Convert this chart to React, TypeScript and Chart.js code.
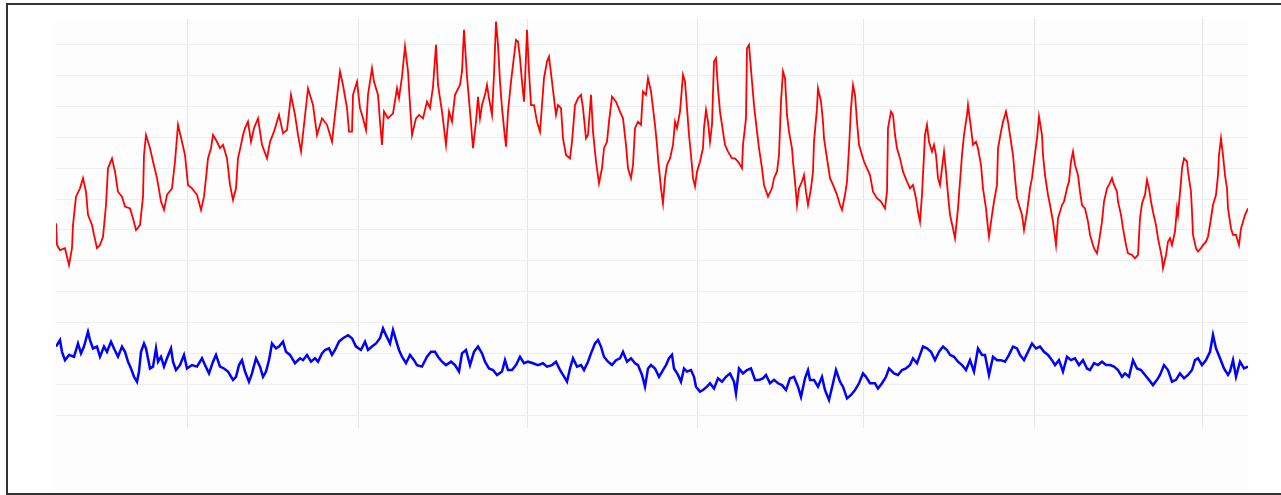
import React, { useEffect, useRef } from "react";
import { Chart, registerables } from "chart.js";

Chart.register(...registerables);

// Sample times (arbitrary time index) and values for the red series
const redT = [
  0, 1, 4, 9, 13, 16, 17, 20, 24, 27, 30, 32, 36, 38, 41, 44, 47, 50, 52, 56, 59, 62, 66, 69, 74, 77, 80, 84, 87, 88,
  90, 94, 97, 101, 105, 108, 111, 116, 119, 122, 126, 129, 132, 136, 141, 145, 148, 150, 152, 155, 157, 161, 164, 167,
  171, 174, 177, 180, 182, 185, 187, 189, 192, 195, 198, 202, 206, 211, 214, 218, 223, 227, 231, 235, 239, 242, 245,
  248, 252, 257, 261, 266, 271, 276, 279, 284, 287, 291, 293,
  296, 297, 301, 304, 307, 310, 312, 316, 318, 322, 324, 326, 328, 332, 337, 341, 343, 346, 349, 352, 354, 356, 360,
  363, 367, 371, 374, 377, 380, 382, 386, 388, 390, 393, 396, 399, 404, 406, 408, 411, 414, 417, 420, 422, 424, 426,
  429, 431, 433, 436, 438, 440, 442, 444, 446, 448, 450, 452, 455, 457, 460, 462, 464, 466, 468, 469, 471, 473, 475,
  478, 481, 484, 486, 488, 491, 493, 496, 498, 500, 502, 505, 507, 510, 514, 516, 519, 522, 525, 527, 530, 532, 535,
  537, 540, 543, 546, 548, 551, 553, 556, 560, 564, 567, 570, 572, 575, 577, 579, 582, 585, 587,
  590, 592, 595, 597, 599, 601, 602, 605, 607, 609, 611, 614, 617, 619, 621, 624, 627, 629, 631, 633, 635, 637, 639,
  641, 644, 647, 648, 650, 652, 654, 656, 658, 660, 662, 664, 667, 669, 672, 676, 679, 682, 686, 687, 690, 691, 693,
  696, 698, 701, 703, 706, 708, 712, 716, 718, 721, 723, 725, 727, 729, 731, 733, 736, 737, 739, 741, 743, 746, 748,
  750, 752, 755, 757, 758, 761, 762, 765, 767, 768, 771, 774, 777, 781, 784, 786, 789, 791, 793, 795, 797, 799, 801,
  803, 806, 808, 811, 814, 817, 821, 825, 829, 831, 832, 835, 837, 839, 841, 844, 847, 851, 854, 857, 860, 862, 864,
  866, 867, 869, 871, 873, 876, 878, 880, 882, 884, 886, 888, 890, 892, 894,
  897, 899, 902, 904, 906, 908, 911, 912, 915, 917, 920, 922, 925, 927, 930, 932, 933, 936, 938, 941, 942, 945, 947,
  950, 952, 955, 957, 959, 961, 963, 966, 968, 971, 974, 976, 978, 981, 983, 986, 987, 989, 992, 994, 997, 1000, 1002,
  1004, 1006, 1008, 1011, 1013, 1015, 1017, 1019, 1022, 1024, 1026, 1029, 1032, 1034, 1036, 1038, 1041, 1043, 1046,
  1048, 1051, 1053, 1056, 1058, 1061, 1062, 1065, 1067, 1070, 1072, 1076, 1079, 1082, 1084, 1086, 1089, 1091, 1093,
  1095, 1097, 1100, 1102, 1104, 1106, 1107, 1110, 1112, 1114, 1116, 1119, 1121, 1122, 1125, 1126, 1128, 1131, 1132,
  1135, 1136, 1137, 1140, 1142, 1145, 1147, 1150, 1152, 1155, 1157, 1160, 1162, 1163, 1165, 1167, 1169, 1171, 1172,
  1175, 1177, 1180, 1182, 1183, 1185, 1187, 1189, 1192,
];
const redV = [
  62.2, 55.1, 53.5, 54.1, 48.6, 54.1, 61.6, 70.8, 73.5, 76.8, 72.4, 64.9, 61.6, 58.4, 54.1, 55.1, 57.8, 68.1, 80.0, 83.2,
  78.9, 72.4, 70.8, 67.6, 67.0, 63.8, 60.0, 61.6, 70.8, 84.3, 90.8, 86.5, 82.2, 76.8, 69.2, 66.5, 71.4, 73.5, 82.2, 94.1,
  88.6, 84.3, 74.6, 73.5, 71.4, 66.5, 70.8, 76.8, 83.2, 86.5, 90.8, 88.6, 86.5, 87.6, 83.2, 74.6, 69.7, 73.5, 83.2, 87.6,
  90.8, 93.0, 95.1, 88.6, 93.0, 96.2, 87.6, 83.2, 88.6, 91.9, 97.3, 91.4, 92.4, 103.8, 97.3, 90.8, 85.4, 94.1, 105.9,
  100.5, 90.8, 96.2, 94.1, 88.6, 97.3, 111.4, 107.0, 99.5, 91.9,
  91.9, 103.8, 108.1, 99.5, 96.2, 92.4, 103.8, 112.4, 108.1, 103.8, 95.1, 87.6, 98.4, 96.2, 97.8, 105.9, 102.7, 109.7,
  119.5, 111.4, 100.5, 90.8, 96.2, 97.3, 96.2, 101.6, 99.5, 106.5, 120.0, 107.0, 98.4, 93.0, 87.6, 98.4, 95.1, 103.8,
  107.0, 111.4, 124.9, 109.7, 98.4, 86.5, 95.1, 103.2, 96.2, 100.5, 103.8, 107.0, 102.7, 97.3, 110.3, 127.6, 120.0,
  108.1, 99.5, 93.0, 87.0, 98.4, 108.1, 113.5, 121.6, 121.1, 115.7, 108.1, 101.6, 108.1, 124.9, 111.4, 100.5, 100.5,
  95.1, 91.9, 100.5, 109.2, 114.6, 116.2, 108.1, 102.7, 97.3, 100.5, 99.5, 89.7, 84.3, 83.2, 88.6, 100.5, 102.7, 103.8,
  99.5, 89.7, 90.8, 103.8, 91.9, 82.2, 75.1, 80.0, 86.5, 88.6, 95.1, 103.2, 101.6, 98.4, 96.2, 87.6, 80.0, 76.8, 81.1,
  93.0, 95.1, 94.1, 104.9,
  103.8, 109.2, 104.9, 99.5, 94.1, 87.6, 83.2, 73.5, 68.6, 76.8, 81.1, 83.2, 87.6, 95.1, 93.0, 98.4, 110.3, 108.1, 99.5,
  90.8, 84.3, 76.8, 74.1, 78.9, 82.2, 86.5, 93.0, 98.9, 95.1, 88.6, 94.1, 114.6, 115.7, 105.9, 98.4, 91.9, 87.6, 85.4,
  83.2, 83.2, 82.2, 80.0, 87.6, 96.2, 118.9, 120.0, 108.1, 100.5, 91.9, 86.5, 80.0, 74.6, 70.8, 73.5, 76.8, 78.9, 84.3,
  101.6, 111.4, 109.2, 97.3, 91.9, 86.5, 82.2, 75.7, 68.1, 73.5, 75.7, 77.8, 72.4, 68.1, 73.5, 78.9, 88.6, 99.5, 105.9,
  101.6, 95.1, 89.7, 83.2, 76.8, 74.6, 71.4, 68.1, 66.5, 71.4, 75.7, 86.5, 99.5, 107.0, 103.8, 95.1, 87.6, 84.3, 82.2,
  80.0, 77.8, 72.4, 70.3, 69.2, 67.0, 72.4, 93.0, 98.4, 97.3, 90.8, 86.5, 83.2, 78.9, 75.7, 73.5, 74.6, 70.3, 65.9, 62.7,
  71.4, 77.8, 90.8, 94.1, 88.6, 85.4, 87.6, 84.3, 76.8, 74.6, 80.0, 85.4, 78.9, 71.4, 64.9,
  60.5, 57.3, 67.0, 75.7, 84.3, 90.8, 97.3, 100.5, 93.0, 87.6, 88.6, 86.5, 81.1, 73.5, 67.0, 60.5, 57.8, 64.9, 69.2, 74.6,
  86.5, 91.9, 95.1, 98.4, 95.1, 88.6, 84.3, 76.8, 70.3, 68.1, 64.9, 60.0, 65.9, 73.5, 76.8, 82.2, 89.7, 96.8, 90.8, 84.3,
  77.8, 71.4, 68.1, 62.7, 55.1, 63.8, 65.9, 68.1, 69.2, 73.5, 75.7, 82.2, 85.4, 81.1, 77.8, 72.4, 68.1, 67.0, 62.7, 58.4,
  56.2, 54.1, 52.4, 56.2, 62.7, 69.2, 73.5, 74.6, 76.8, 74.6, 72.4, 69.2, 64.9, 60.5, 55.1, 52.4, 51.9, 50.8, 51.9, 63.8,
  68.6, 71.4, 76.2, 73.5, 69.2, 65.9, 61.6, 57.3, 54.1, 50.8, 47.6, 51.9, 56.2, 57.3, 55.1, 59.5, 67.0, 64.9, 75.7, 80.0,
  83.2, 82.2, 78.9, 72.4, 65.9, 58.4, 54.1, 53.0, 54.1, 55.1, 56.2, 57.8, 63.8, 68.1, 71.4, 77.8, 84.3, 89.7, 84.3, 77.8,
  73.5, 67.0, 60.5, 58.4, 58.4, 56.2, 55.1, 60.5, 62.7, 64.9, 67.0,
];

// Sample times and values for the blue series
const blueT = [
  0, 4, 6, 9, 13, 18, 22, 25, 28, 32, 34, 37, 41, 44, 48, 51, 55, 58, 62, 66, 69, 72, 75, 78, 81, 83, 85, 88, 90, 94,
  97, 100, 102, 105, 108, 111, 115, 117, 120, 124, 128, 131, 136, 141, 146, 149, 153, 157, 160, 164, 168, 172, 177, 180,
  183, 186, 189, 193, 196, 200, 204, 207, 210, 213, 216, 220, 223, 227, 230, 234, 239, 244, 247, 251, 255, 259, 262, 266,
  269, 273, 276, 279, 283, 287, 292, 296, 300, 305, 309, 312, 316, 320, 324, 327, 330, 334, 337, 340, 343, 346, 350, 354,
  358, 361, 366, 371, 375, 379, 382, 386, 390, 395, 399, 403, 406, 410, 414, 418, 422, 426, 429, 433, 437, 441, 446, 449,
  452, 456, 460, 464, 468, 472, 477, 482, 487, 491, 496, 500, 504, 507, 511, 514, 517, 521, 525, 528, 532, 535, 539, 542,
  545, 548, 552, 556, 560, 564, 567, 571, 575, 579, 582, 586, 589, 592,
  595, 599, 603, 607, 610, 613, 616, 618, 622, 625, 628, 631, 635, 638, 640, 644, 647, 651, 654, 658, 662, 666, 670, 674,
  678, 680, 683, 687, 691, 695, 699, 703, 707, 710, 714, 718, 722, 726, 730, 734, 738, 742, 745, 749, 752, 754, 758, 762,
  766, 769, 773, 777, 780, 784, 787, 791, 795, 799, 803, 807, 810, 814, 819, 822, 826, 830, 833, 838, 842, 846, 850, 854,
  857, 861, 864, 867, 871, 875, 879, 883, 887, 891, 894, 898, 902, 906, 910, 914, 918, 922, 926, 929, 933, 937, 941, 945,
  949, 953, 957, 961, 964, 968, 972, 976, 980, 984, 988, 992, 996, 999, 1003, 1007, 1011, 1015, 1019, 1023, 1027, 1031,
  1034, 1038, 1042, 1046, 1050, 1054, 1058, 1062, 1066, 1069, 1073, 1077, 1081, 1085, 1089, 1093, 1097, 1101, 1104, 1108,
  1112, 1116, 1120, 1124, 1128, 1132, 1136, 1139, 1142, 1146, 1150, 1154, 1157, 1160, 1164, 1168, 1172, 1174, 1177, 1180,
  1184, 1188, 1192,
];
const blueV = [
  22.2, 24.3, 20.5, 17.8, 19.5, 18.9, 23.2, 20.0, 22.2, 27.0, 24.3, 21.6, 22.2, 18.9, 22.2, 20.5, 23.8, 21.6, 18.9, 22.2,
  20.5, 17.3, 15.1, 12.4, 10.8, 14.1, 20.5, 23.2, 21.6, 15.1, 15.7, 21.6, 17.3, 18.9, 15.7, 18.4, 21.6, 17.3, 14.6, 16.2,
  19.5, 15.1, 16.2, 15.7, 18.4, 16.2, 13.5, 17.3, 19.5, 15.7, 15.1, 14.1, 11.4, 12.4, 16.2, 17.8, 14.1, 10.8, 13.5, 18.4,
  15.7, 12.4, 14.1, 17.8, 23.2, 21.6, 22.2, 23.8, 20.5, 19.5, 16.8, 18.4, 17.8, 19.5, 17.3, 18.4, 17.3, 20.0, 21.1, 21.6,
  19.5, 21.1, 23.8, 24.9, 25.9, 24.9, 22.2, 21.1, 23.8, 21.1, 22.2, 23.2, 24.9, 28.1, 25.9, 23.2, 27.6, 24.3, 21.1, 18.9,
  16.8, 19.5, 17.8, 16.2, 15.7, 18.9, 20.5, 20.5, 18.9, 17.3, 16.2, 17.3, 16.2, 14.1, 20.0, 21.1, 16.2, 20.5, 22.2, 20.0,
  17.3, 15.1, 14.6, 13.0, 14.1, 17.8, 14.6, 14.6, 16.2, 18.9, 16.8, 17.3, 16.8, 16.2, 16.8, 15.7, 16.2, 17.3, 14.6, 13.0,
  10.8, 15.1, 18.4, 15.7, 16.2, 14.6, 17.3, 20.0, 23.2, 24.3, 22.2, 18.9, 17.3, 16.2, 17.8, 18.4, 20.5, 17.3, 18.4, 16.8,
  16.2, 13.0, 9.2, 15.1,
  16.2, 15.1, 12.4, 14.6, 16.2, 18.4, 19.5, 15.1, 13.0, 10.8, 15.1, 14.1, 14.6, 12.4, 9.2, 7.6, 8.1, 9.2, 10.3, 8.6, 11.9,
  10.8, 12.4, 13.5, 10.8, 7.0, 15.1, 13.5, 14.6, 15.1, 11.4, 11.4, 11.9, 13.0, 10.3, 11.4, 10.3, 9.7, 8.1, 11.9, 12.4,
  9.2, 5.9, 11.9, 14.6, 11.4, 11.4, 9.2, 12.4, 8.1, 4.9, 10.3, 14.6, 10.8, 9.2, 5.4, 6.5, 8.1, 10.3, 13.5, 12.4, 10.3,
  10.3, 8.6, 10.3, 12.4, 15.1, 13.5, 13.0, 14.6, 15.1, 16.2, 18.4, 16.8, 19.5, 22.2, 21.6, 20.5, 17.8, 20.5, 22.2, 21.1,
  19.5, 18.9, 17.3, 16.2, 14.6, 17.8, 14.1, 21.6, 19.5, 19.5, 13.0, 18.9, 17.8, 17.8, 17.3, 19.5, 22.2, 21.6, 19.5, 17.8,
  20.5, 23.2, 21.6, 22.2, 20.5, 19.5, 17.8, 16.2, 17.8, 14.1, 18.9, 17.8, 18.4, 16.2, 17.8, 15.1, 14.6, 16.8, 16.2, 17.3,
  16.2, 16.2, 15.7, 14.6, 12.4, 13.5, 12.4, 17.8, 15.1, 14.6, 13.0, 11.4, 9.7, 11.4, 13.0, 16.2, 14.6, 10.8, 11.4, 13.5,
  11.9, 13.0, 14.6, 17.8, 18.4, 16.2, 17.8, 20.5, 26.0, 21.6, 18.4, 15.1, 13.0, 14.1, 17.8, 12.4, 17.3, 15.1, 15.7,
];

// Axis extents and grid-line (tick) values
const X_MIN = 0;
const X_MAX = 1192;
const Y_MIN = -4.2;
const Y_MAX = 128.4;
const xGridValues = [131, 302, 471, 641, 807, 978, 1146];
const yGridValues = [0, 10, 20, 30, 40, 50, 60, 70, 80, 90, 100, 110, 120];

export default function App() {
  const ref = useRef<HTMLCanvasElement | null>(null);

  useEffect(() => {
    if (!ref.current) return;
    const plotBg = {
      id: "plotBg",
      beforeDraw(chart: any) {
        const { ctx, chartArea: a, height } = chart;
        ctx.save();
        ctx.fillStyle = "#fdfdfd";
        ctx.fillRect(a.left - 1, a.top, a.right - a.left + 1, height - a.top);
        ctx.restore();
      },
    };
    const chart = new Chart(ref.current, {
      type: "line",
      data: {
        datasets: [
          {
            data: redT.map((t, i) => ({ x: t, y: redV[i] })),
            borderColor: "#ff0000",
            borderWidth: 1.8,
            pointRadius: 0,
            tension: 0,
            fill: false,
          },
          {
            data: blueT.map((t, i) => ({ x: t, y: blueV[i] })),
            borderColor: "#0000ff",
            borderWidth: 2.5,
            pointRadius: 0,
            tension: 0,
            fill: false,
          },
        ],
      },
      options: {
        animation: false,
        responsive: false,
        events: [],
        layout: { padding: { left: 48, top: 14, right: 40, bottom: 65 } },
        plugins: { legend: { display: false }, tooltip: { enabled: false } },
        scales: {
          x: {
            type: "linear",
            min: X_MIN,
            max: X_MAX,
            afterBuildTicks: (s: any) => {
              s.ticks = xGridValues.map((v) => ({ value: v }));
            },
            ticks: { display: false },
            grid: { color: "#e6e6e6", drawTicks: false, lineWidth: 1 },
            border: { display: false },
          },
          y: {
            type: "linear",
            min: Y_MIN,
            max: Y_MAX,
            afterBuildTicks: (s: any) => {
              s.ticks = yGridValues.map((v) => ({ value: v }));
            },
            ticks: { display: false },
            grid: { color: "#eeeeee", drawTicks: false, lineWidth: 1 },
            border: { display: false },
          },
        },
      },
      plugins: [plotBg],
    } as any);
    return () => chart.destroy();
  }, []);

  return (
    <div
      style={{
        position: "fixed",
        left: 0,
        top: 0,
        width: 1281,
        height: 495,
        overflow: "hidden",
        background: "#ffffff",
      }}
    >
      <div
        style={{
          position: "absolute",
          left: 6,
          top: 3,
          width: 1290,
          height: 492,
          border: "2px solid #333333",
          boxSizing: "border-box",
          background: "#ffffff",
        }}
      >
        <canvas ref={ref} width={1280} height={488} style={{ display: "block" }} />
      </div>
    </div>
  );
}
